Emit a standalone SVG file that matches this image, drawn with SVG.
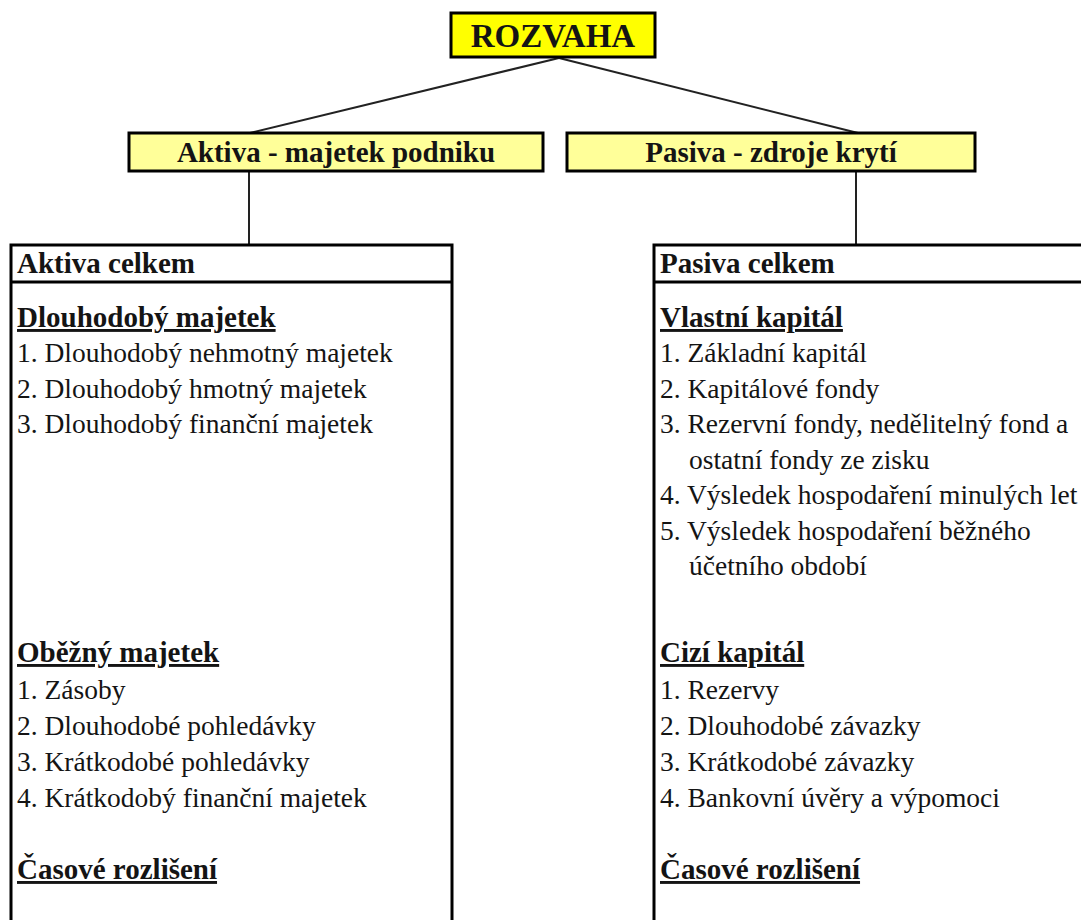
<svg xmlns="http://www.w3.org/2000/svg" width="1081" height="920" viewBox="0 0 1081 920">
<style>
text{font-family:"Liberation Serif","Times New Roman",serif;fill:#141414}
.t{font-size:27.5px}
.b{font-size:29px;font-weight:bold}
.u{text-decoration:underline}
.title{font-size:33px;font-weight:bold}
.box{stroke:#000;stroke-width:3;fill:#fff}
.conn{stroke:#222;stroke-width:2;fill:none}
</style>
<rect width="1081" height="920" fill="#fff"/>
<g id="connectors">
<path class="conn" d="M559 58 L250 133"/>
<path class="conn" d="M559 58 L858 133"/>
<path class="conn" d="M249 171 L249 244"/>
<path class="conn" d="M856 171 L856 244"/>
</g>
<g id="rozvaha">
<rect x="451" y="13" width="204" height="44" fill="#ffff00" stroke="#000" stroke-width="3"/>
<text class="title" x="553" y="47" text-anchor="middle">ROZVAHA</text>
</g>
<g id="aktiva">
<rect x="129" y="133" width="414" height="38" fill="#ffff99" stroke="#000" stroke-width="3"/>
<text class="b" x="336" y="162" text-anchor="middle">Aktiva - majetek podniku</text>
</g>
<g id="pasiva">
<rect x="567" y="133" width="408" height="38" fill="#ffff99" stroke="#000" stroke-width="3"/>
<text class="b" x="771" y="162" text-anchor="middle">Pasiva - zdroje krytí</text>
</g>
<g id="aktiva-celkem">
<rect class="box" x="11" y="245" width="441" height="700"/>
<line x1="11" y1="282" x2="452" y2="282" stroke="#000" stroke-width="3"/>
<text class="b" x="17" y="273">Aktiva celkem</text>
<text class="b u" x="17" y="327">Dlouhodobý majetek</text>
<text class="t" x="17" y="362">1. Dlouhodobý nehmotný majetek</text>
<text class="t" x="17" y="398">2. Dlouhodobý hmotný majetek</text>
<text class="t" x="17" y="433">3. Dlouhodobý finanční majetek</text>
<text class="b u" x="17" y="662">Oběžný majetek</text>
<text class="t" x="17" y="699">1. Zásoby</text>
<text class="t" x="17" y="735">2. Dlouhodobé pohledávky</text>
<text class="t" x="17" y="771">3. Krátkodobé pohledávky</text>
<text class="t" x="17" y="807">4. Krátkodobý finanční majetek</text>
<text class="b u" x="17" y="879">Časové rozlišení</text>
</g>
<g id="pasiva-celkem">
<rect class="box" x="654" y="245" width="500" height="700"/>
<line x1="654" y1="282" x2="1081" y2="282" stroke="#000" stroke-width="3"/>
<text class="b" x="660" y="273">Pasiva celkem</text>
<text class="b u" x="660" y="327">Vlastní kapitál</text>
<text class="t" x="660" y="362">1. Základní kapitál</text>
<text class="t" x="660" y="398">2. Kapitálové fondy</text>
<text class="t" x="660" y="433">3. Rezervní fondy, nedělitelný fond a</text>
<text class="t" x="689" y="469">ostatní fondy ze zisku</text>
<text class="t" x="660" y="504">4. Výsledek hospodaření minulých let</text>
<text class="t" x="660" y="540">5. Výsledek hospodaření běžného</text>
<text class="t" x="689" y="575">účetního období</text>
<text class="b u" x="660" y="662">Cizí kapitál</text>
<text class="t" x="660" y="699">1. Rezervy</text>
<text class="t" x="660" y="735">2. Dlouhodobé závazky</text>
<text class="t" x="660" y="771">3. Krátkodobé závazky</text>
<text class="t" x="660" y="807">4. Bankovní úvěry a výpomoci</text>
<text class="b u" x="660" y="879">Časové rozlišení</text>
</g>
</svg>
